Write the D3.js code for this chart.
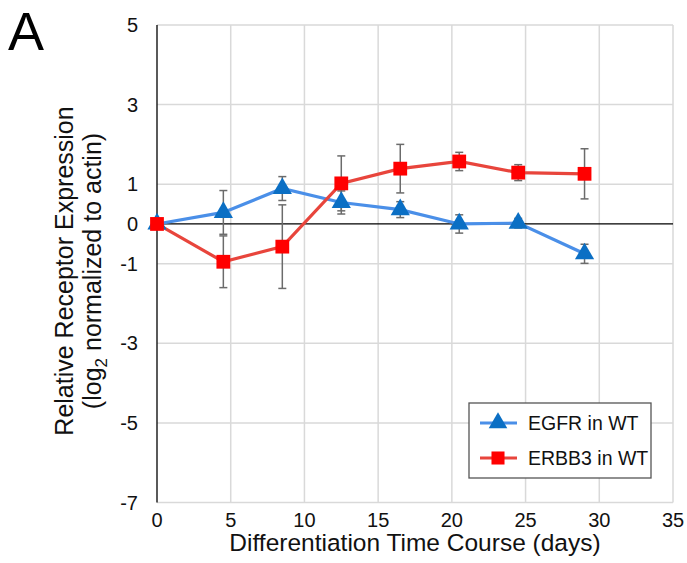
<!DOCTYPE html>
<html>
<head>
<meta charset="utf-8">
<script src="https://cdn.jsdelivr.net/npm/d3@7.9.0/dist/d3.min.js"></script>
<style>
  body { margin: 0; background: #fff; }
  svg { display: block; font-family: "Liberation Sans", Arial, sans-serif; }
</style>
</head>
<body>
<svg id="chart" width="687" height="563"></svg>
<script>
const days = [0, 4.5, 8.5, 12.5, 16.5, 20.5, 24.5, 29];
const egfr = [0, 0.29, 0.89, 0.54, 0.36, 0, 0.02, -0.75];
const egfrErr = [0, 0.55, 0.3, 0.29, 0.2, 0.23, 0.12, 0.24];
const erbb3 = [0, -0.95, -0.57, 1.02, 1.39, 1.57, 1.29, 1.26];
const erbb3Err = [0, 0.65, 1.05, 0.69, 0.61, 0.23, 0.2, 0.63];
const xTicks = [0, 5, 10, 15, 20, 25, 30, 35];
const yTicks = [5, 3, 1, 0, -1, -3, -5, -7];

const series = [
  { name: 'EGFR in WT', values: egfr, err: egfrErr, line: '#4a8fe8', marker: '#0b6fc4', shape: d3.symbolTriangle },
  { name: 'ERBB3 in WT', values: erbb3, err: erbb3Err, line: '#e8453c', marker: '#ff0000', shape: d3.symbolSquare }
];

const svg = d3.select('#chart');
const x = d3.scaleLinear().domain([0, 35]).range([157, 673]);
const y = d3.scaleLinear().domain([-7, 5]).range([502.5, 25]);

// grid
svg.append('g').selectAll('line').data(xTicks.filter(d => d > 0)).join('line')
  .attr('x1', d => x(d)).attr('x2', d => x(d))
  .attr('y1', y(5)).attr('y2', y(-7))
  .attr('stroke', '#d9d9d9').attr('stroke-width', 1.5);
svg.append('g').selectAll('line').data(yTicks.filter(d => d !== 0)).join('line')
  .attr('x1', x(0)).attr('x2', x(35))
  .attr('y1', d => y(d)).attr('y2', d => y(d))
  .attr('stroke', '#d9d9d9').attr('stroke-width', 1.5);

// axes
svg.append('line').attr('x1', x(0)).attr('x2', x(0)).attr('y1', y(5)).attr('y2', y(-7))
  .attr('stroke', '#000').attr('stroke-width', 1.3);
svg.append('line').attr('x1', x(0)).attr('x2', x(35)).attr('y1', y(0)).attr('y2', y(0))
  .attr('stroke', '#000').attr('stroke-width', 1.3);

// tick labels
svg.append('g').selectAll('text').data(yTicks).join('text')
  .attr('x', 138).attr('y', d => y(d)).attr('dy', '0.35em')
  .attr('text-anchor', 'end').attr('font-size', 20).attr('fill', '#111')
  .text(d => d);
svg.append('g').selectAll('text').data(xTicks).join('text')
  .attr('x', d => x(d)).attr('y', 527)
  .attr('text-anchor', 'middle').attr('font-size', 20).attr('fill', '#111')
  .text(d => d);

// axis titles
svg.append('text').attr('x', 415).attr('y', 551).attr('text-anchor', 'middle')
  .attr('font-size', 24.5).attr('fill', '#111').text('Differentiation Time Course (days)');
const yt = svg.append('text').attr('transform', 'translate(73,271) rotate(-90)')
  .attr('text-anchor', 'middle').attr('font-size', 25).attr('fill', '#111');
yt.append('tspan').attr('x', 0).attr('dy', 0).text('Relative Receptor Expression');
const l2 = yt.append('tspan').attr('x', 0).attr('dy', 28);
l2.append('tspan').text('(log');
l2.append('tspan').attr('font-size', 17).attr('dy', 6).text('2');
l2.append('tspan').attr('dy', -6).text(' normalized to actin)');

svg.append('text').attr('x', 8).attr('y', 50).attr('font-size', 54).attr('fill', '#000').text('A');

// series
series.forEach(s => {
  const pts = days.map((d, i) => ({ d, v: s.values[i], e: s.err[i] }));
  svg.append('path').datum(pts)
    .attr('fill', 'none').attr('stroke', s.line).attr('stroke-width', 3.2)
    .attr('d', d3.line().x(p => x(p.d)).y(p => y(p.v)));
});

series.forEach(s => {
  const pts = days.map((d, i) => ({ d, v: s.values[i], e: s.err[i] })).filter(p => p.e > 0);
  const g = svg.append('g').attr('stroke', '#6b6b6b').attr('stroke-width', 1.5);
  g.selectAll('.v').data(pts).join('line')
    .attr('x1', p => x(p.d)).attr('x2', p => x(p.d))
    .attr('y1', p => y(p.v + p.e)).attr('y2', p => y(p.v - p.e));
  g.selectAll('.t').data(pts).join('line')
    .attr('x1', p => x(p.d) - 4).attr('x2', p => x(p.d) + 4)
    .attr('y1', p => y(p.v + p.e)).attr('y2', p => y(p.v + p.e));
  g.selectAll('.b').data(pts).join('line')
    .attr('x1', p => x(p.d) - 4).attr('x2', p => x(p.d) + 4)
    .attr('y1', p => y(p.v - p.e)).attr('y2', p => y(p.v - p.e));
});

series.forEach(s => {
  const pts = days.map((d, i) => ({ d, v: s.values[i] }));
  svg.append('g').selectAll('path').data(pts).join('path')
    .attr('transform', p => `translate(${x(p.d)},${y(p.v)})`)
    .attr('d', d3.symbol().type(s.shape).size(s.shape === d3.symbolSquare ? 190 : 160))
    .attr('fill', s.marker);
});

// legend
const lg = svg.append('g');
lg.append('rect').attr('x', 469).attr('y', 403).attr('width', 182).attr('height', 75)
  .attr('fill', '#fff').attr('stroke', '#555').attr('stroke-width', 1.3);
series.forEach((s, i) => {
  const cy = 423 + i * 35;
  lg.append('line').attr('x1', 480).attr('x2', 517).attr('y1', cy).attr('y2', cy)
    .attr('stroke', s.line).attr('stroke-width', 3.2);
  lg.append('path').attr('transform', `translate(498,${cy})`)
    .attr('d', d3.symbol().type(s.shape).size(s.shape === d3.symbolSquare ? 170 : 150))
    .attr('fill', s.marker);
  lg.append('text').attr('x', 528).attr('y', cy).attr('dy', '0.35em')
    .attr('font-size', 19.5).attr('fill', '#111').text(s.name);
});
</script>
</body>
</html>
